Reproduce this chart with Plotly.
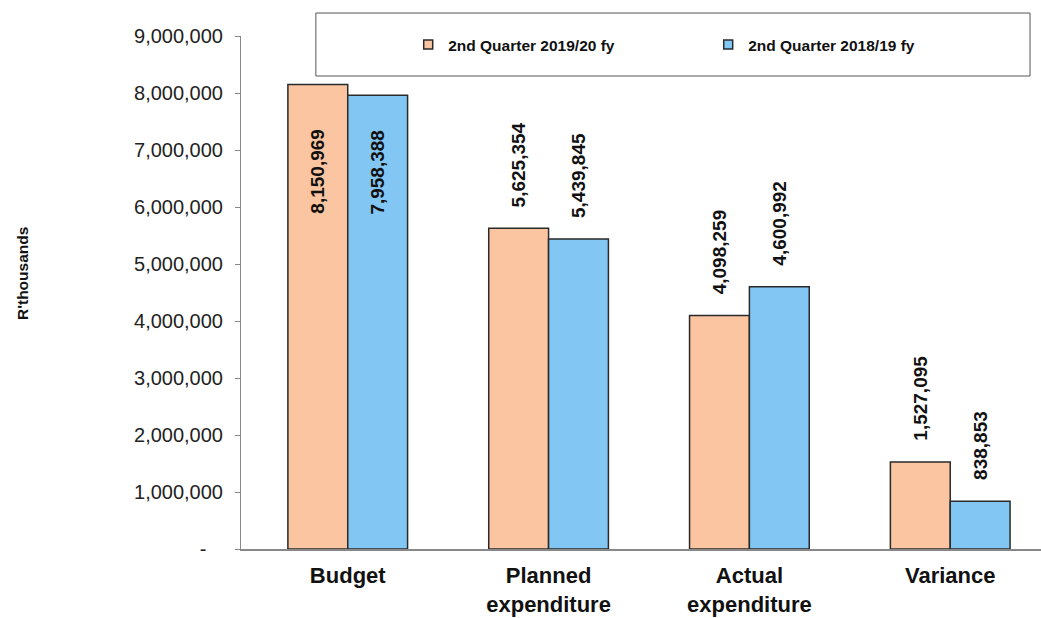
import plotly.graph_objects as go

categories = ["Budget", "Planned<br>expenditure", "Actual<br>expenditure", "Variance"]
q2_2019_20 = [8150969, 5625354, 4098259, 1527095]
q2_2018_19 = [7958388, 5439845, 4600992, 838853]
series_names = ["2nd Quarter 2019/20 fy", "2nd Quarter 2018/19 fy"]
y_ticks = [0, 1000000, 2000000, 3000000, 4000000, 5000000, 6000000, 7000000, 8000000, 9000000]
y_tick_labels = ["-\u00a0\u00a0\u00a0", "1,000,000", "2,000,000", "3,000,000", "4,000,000", "5,000,000",
                 "6,000,000", "7,000,000", "8,000,000", "9,000,000"]

FONT = "Liberation Sans, Arial, sans-serif"
ORANGE = "#FAC5A0"
BLUE = "#82C6F3"
OUTLINE = "#2a2a2a"

def fmt(v):
    return f"{v:,}"

fig = go.Figure()
series = [(series_names[0], q2_2019_20, ORANGE, -30, -42),
          (series_names[1], q2_2018_19, BLUE, 30, -32)]
for name, vals, color, xs, inner_shift in series:
    fig.add_trace(go.Bar(
        name=name, x=categories, y=vals, showlegend=False,
        marker=dict(color=color, line=dict(color=OUTLINE, width=1.5)),
    ))
    # legend proxy with a small square symbol
    fig.add_trace(go.Scatter(
        name=name, x=[None], y=[None], mode="markers",
        marker=dict(symbol="square", size=9, color=color, line=dict(color=OUTLINE, width=1.5)),
    ))
    for i, (c, v) in enumerate(zip(categories, vals)):
        inside = (i == 0)
        fig.add_annotation(
            x=c, y=v, xref="x", yref="y", text=fmt(v), showarrow=False,
            textangle=-90, xshift=xs,
            yanchor="top" if inside else "bottom",
            yshift=inner_shift if inside else 19,
            font=dict(family=FONT, size=19, color="#111111", weight="bold"),
        )

fig.add_annotation(
    x=-0.287, y=0.538, xref="paper", yref="paper", text="R'thousands", showarrow=False,
    textangle=-90, font=dict(family=FONT, size=15.5, color="#111111", weight="bold"),
)

fig.update_layout(
    width=1041, height=618,
    barmode="group", bargap=0.404, bargroupgap=0.0,
    plot_bgcolor="white", paper_bgcolor="white",
    margin=dict(l=241, r=0, t=36, b=69),
    font=dict(family=FONT, color="#111111"),
    showlegend=True,
    legend=dict(orientation="h", x=0.209, y=0.9825, xanchor="left", yanchor="middle",
                font=dict(family=FONT, size=15.5, weight="bold"),
                bgcolor="rgba(0,0,0,0)", entrywidth=255, itemsizing="trace",
                traceorder="normal"),
    shapes=[dict(type="rect", xref="paper", yref="paper",
                 x0=0.0936, x1=0.9863, y0=0.922, y1=1.0448,
                 line=dict(color="#555555", width=1), fillcolor="rgba(0,0,0,0)", layer="below")],
)
fig.update_xaxes(
    range=[-0.5315, 3.452],
    showline=True, linecolor="#888888", linewidth=1.5,
    tickfont=dict(family=FONT, size=22, weight="bold"),
    ticks="", showgrid=False, ticklabelstandoff=6,
)
fig.update_yaxes(
    range=[0, 9000000], tickvals=y_ticks, ticktext=y_tick_labels,
    showline=True, linecolor="#888888", linewidth=1,
    ticks="outside", ticklen=5, tickcolor="#888888",
    tickfont=dict(family=FONT, size=20, color="#222222"),
    showgrid=False, zeroline=False, ticklabelstandoff=8,
)
fig.write_html("out.html")
